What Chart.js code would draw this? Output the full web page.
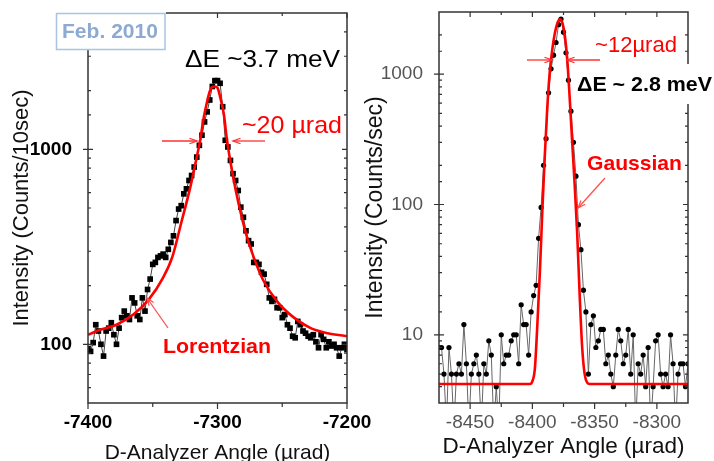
<!DOCTYPE html>
<html><head><meta charset="utf-8">
<script src="https://cdn.jsdelivr.net/npm/chart.js@4.4.1/dist/chart.umd.min.js"></script>
<style>
html,body{margin:0;padding:0;background:#fff;overflow:hidden}
#wrap{position:relative;width:714px;height:461px;overflow:hidden}
.c{position:absolute;top:0;height:461px}
</style></head><body>
<div id="wrap">
<div class="c" style="left:0;width:380px"><canvas id="left"></canvas></div>
<div class="c" style="left:357px;width:357px"><canvas id="right"></canvas></div>
</div>
<script>
// ---------- Left panel (Lorentzian) ----------
const leftAngles = [-7400,-7398,-7396,-7394,-7392,-7390,-7388,-7386,-7384,-7382,-7380,-7378,-7376,-7374,-7372,-7370,-7368,-7366,-7364,-7362,-7360,-7358,-7356,-7354,-7352,-7350,-7348,-7346,-7344,-7342,-7340,-7338,-7336,-7334,-7332,-7330,-7328,-7326,-7324,-7322,-7320,-7318,-7316,-7314,-7312,-7310,-7308,-7306,-7304,-7302,-7300,-7298,-7296,-7294,-7292,-7290,-7288,-7286,-7284,-7282,-7280,-7278,-7276,-7274,-7272,-7270,-7268,-7266,-7264,-7262,-7260,-7258,-7256,-7254,-7252,-7250,-7248,-7246,-7244,-7242,-7240,-7238,-7236,-7234,-7232,-7230,-7228,-7226,-7224,-7222,-7220,-7218,-7216,-7214,-7212,-7210,-7208,-7206,-7204,-7202,-7200];
const leftCounts = [95,92,102,126,117,100,87,117,121,129,112,100,121,137,148,140,134,173,163,140,134,173,148,191,216,257,263,279,284,290,279,307,333,360,431,494,514,591,627,692,734,811,912,1048,1181,1382,1556,1790,2100,2250,2250,2180,1653,1112,1028,877,750,692,615,505,448,382,340,327,263,263,257,234,229,203,173,166,170,154,154,137,142,126,121,110,108,131,126,117,114,110,108,112,103,96,112,106,96,103,98,100,96,87,96,100,94];
const lorentzAngles = [-7400,-7390,-7378,-7365,-7353,-7342,-7335,-7328,-7321,-7316,-7313,-7311,-7308,-7306,-7304,-7302,-7300,-7298,-7295,-7293,-7290,-7286,-7282,-7277,-7272,-7265,-7254,-7241,-7228,-7215,-7200];
const lorentzFit = [112,119,126,142,170,220,279,420,640,912,1150,1410,1760,1980,2090,2100,2070,1860,1500,1157,860,620,470,350,279,215,166,137,121,114,110];
const leftXTicks = [-7400,-7300,-7200];
const leftYTicks = [100,1000];

// ---------- Right panel (Gaussian) ----------
const rightAngles = [-8475,-8473,-8471,-8469,-8467,-8465,-8463,-8461,-8459,-8457,-8455,-8453,-8451,-8449,-8447,-8445,-8443,-8441,-8439,-8437,-8435,-8433,-8431,-8429,-8427,-8425,-8423,-8421,-8419,-8417,-8415,-8413,-8411,-8409,-8407,-8405,-8403,-8401,-8399,-8397,-8395,-8393,-8391,-8389,-8387,-8385,-8383,-8381,-8379,-8377,-8375,-8373,-8371,-8369,-8367,-8365,-8363,-8361,-8359,-8357,-8355,-8353,-8351,-8349,-8347,-8345,-8343,-8341,-8339,-8337,-8335,-8333,-8331,-8329,-8327,-8325,-8323,-8321,-8319,-8317,-8315,-8313,-8311,-8309,-8307,-8305,-8303,-8301,-8299,-8297,-8295,-8293,-8291,-8289,-8287,-8285,-8283,-8281,-8279,-8277,-8275];
const rightCounts = [8,8,5,2,8,5,2,5,6,5,12,6,2,5,6,7,5,2,6,5,9,7,2,4,2,10,6,7,7,9,10,10,6,17,12,12,7,15,20,24,55,95,200,320,720,1100,1400,1750,2400,2650,2100,1460,900,520,300,165,70,45,22,15,5,12,14,8,9,11,11,6,7,5,4,7,11,9,6,7,11,5,10,2,6,5,7,4,8,2,4,9,10,5,4,5,4,10,6,2,5,6,6,4,6];
const gaussAngles = [-8475,-8402,-8400,-8398,-8396,-8394,-8392,-8390,-8388,-8386,-8384,-8382,-8380,-8378,-8376,-8374,-8372,-8370,-8368,-8366,-8364,-8362,-8360,-8358,-8356,-8354,-8275];
const gaussFit = [4.2,4.2,4.4,5.5,12,30,90,240,560,1050,1550,2050,2450,2640,2500,2000,1300,650,300,140,60,20,8,5,4.3,4.2,4.2];
const rightXTicks = [-8450,-8400,-8350,-8300];
const rightYTicks = [10,100,1000];

const FONT = "'Liberation Sans', Arial, sans-serif";
const isPow10 = v => Math.abs(Math.log10(v) - Math.round(Math.log10(v))) < 1e-6;

function arrow(ctx, x1, y1, x2, y2, color) {
  ctx.save();
  ctx.strokeStyle = color; ctx.lineWidth = 1.3;
  ctx.beginPath(); ctx.moveTo(x1, y1); ctx.lineTo(x2, y2); ctx.stroke();
  const ang = Math.atan2(y2 - y1, x2 - x1), h = 8, w = 0.35;
  ctx.beginPath();
  ctx.moveTo(x2 - h * Math.cos(ang - w), y2 - h * Math.sin(ang - w));
  ctx.lineTo(x2, y2);
  ctx.lineTo(x2 - h * Math.cos(ang + w), y2 - h * Math.sin(ang + w));
  ctx.stroke();
  ctx.restore();
}
// draws text starting at x, vertically centred on y, stretched to the width seen in the reference
function text(ctx, s, x, y, font, color, width) {
  ctx.save(); ctx.font = font; ctx.fillStyle = color;
  ctx.textAlign = 'left'; ctx.textBaseline = 'middle';
  const m = ctx.measureText(s).width;
  const sx = width ? width / m : 1;
  ctx.translate(x, y); ctx.scale(sx, 1);
  ctx.fillText(s, 0, 0); ctx.restore();
}

const framePlugin = {
  id: 'frame',
  afterDraw(chart, args, opts) {
    const {ctx, chartArea: a, scales: {x, y}} = chart;
    ctx.save();
    ctx.strokeStyle = opts.color; ctx.lineWidth = 1.5;
    ctx.strokeRect(a.left, a.top, a.right - a.left, a.bottom - a.top);
    ctx.lineWidth = 1.2;
    x.ticks.forEach(t => {
      const px = x.getPixelForValue(t.value);
      const major = opts.xMajor.includes(t.value);
      ctx.beginPath();
      ctx.moveTo(px, a.bottom); ctx.lineTo(px, a.bottom + (major ? 6 : 4));
      ctx.moveTo(px, a.top); ctx.lineTo(px, a.top + (major ? 5 : 3));
      ctx.stroke();
    });
    y.ticks.forEach(t => {
      if (t.value <= y.min || t.value >= y.max) return;
      const py = y.getPixelForValue(t.value);
      const major = isPow10(t.value);
      ctx.beginPath();
      ctx.moveTo(a.left - (major ? 5 : 0), py); ctx.lineTo(a.left + (major ? 5 : 3), py);
      ctx.moveTo(a.right - (major ? 5 : 3), py); ctx.lineTo(a.right, py);
      ctx.stroke();
    });
    ctx.restore();
    if (opts.annotate) opts.annotate(ctx);
  }
};

function zeroPad(s) { s.paddingLeft = 0; s.paddingRight = 0; s.paddingTop = 0; s.paddingBottom = 0; }

function makeChart(id, cfg) {
  return new Chart(document.getElementById(id), {
    type: 'line',
    data: {datasets: [
      {label: cfg.fitLabel, data: cfg.fitX.map((v, i) => ({x: v, y: cfg.fitY[i]})),
       borderColor: '#ff0000', borderWidth: 2.6, pointRadius: 0, cubicInterpolationMode: 'monotone', order: 0},
      {label: 'data', data: cfg.dataX.map((v, i) => ({x: v, y: cfg.dataY[i]})),
       borderColor: cfg.lineColor, borderWidth: 1, pointStyle: cfg.pointStyle, pointRadius: cfg.pointRadius,
       pointBackgroundColor: '#000', pointBorderColor: '#000', pointBorderWidth: 0, tension: 0, order: 1}
    ]},
    options: {
      responsive: true, maintainAspectRatio: false, animation: false,
      layout: {padding: {top: cfg.top, right: cfg.right, left: 0, bottom: 0}},
      plugins: {legend: {display: false}, tooltip: {enabled: false},
        frame: {color: '#333', xMajor: cfg.xTicks, annotate: cfg.annotate}},
      scales: {
        x: {type: 'linear', min: cfg.xMin, max: cfg.xMax,
            grid: {display: false}, border: {display: false},
            afterBuildTicks: s => { s.ticks = cfg.xAll.map(v => ({value: v})); },
            ticks: {autoSkip: false, maxRotation: 0, padding: 0, color: cfg.tickColor,
                    font: {family: FONT, size: 19, weight: cfg.tickWeight},
                    callback: v => cfg.xTicks.includes(v) ? String(v) : ''},
            title: {display: true, text: 'D-Analyzer Angle (\u00b5rad)', color: '#111',
                    font: {family: FONT, size: cfg.xTitleSize, lineHeight: 1}, padding: {top: 0, bottom: cfg.xTitlePad}},
            afterFit: s => { s.height = 58; zeroPad(s); }},
        y: {type: 'logarithmic', min: cfg.yMin, max: cfg.yMax,
            grid: {display: false}, border: {display: false},
            ticks: {autoSkip: false, padding: 8, color: cfg.tickColor,
                    font: {family: FONT, size: 19, weight: cfg.tickWeight},
                    callback: v => cfg.yTicks.includes(v) ? String(v) : ''},
            title: {display: true, text: cfg.yTitle, color: '#111',
                    font: {family: FONT, size: cfg.yTitleSize, lineHeight: 1}, padding: {top: cfg.yTitlePad, bottom: 0}},
            afterFit: s => { s.width = cfg.left; zeroPad(s); }}
      }
    },
    plugins: [framePlugin]
  });
}

makeChart('left', {
  fitLabel: 'Lorentzian', fitX: lorentzAngles, fitY: lorentzFit,
  dataX: leftAngles, dataY: leftCounts, lineColor: '#444', pointStyle: 'rect', pointRadius: 4,
  top: 13, right: 33, left: 88, xMin: -7400, xMax: -7200, yMin: 50, yMax: 5000,
  xTicks: leftXTicks, xAll: [-7400, -7350, -7300, -7250, -7200], yTicks: leftYTicks,
  tickColor: '#000', tickWeight: 'bold', xTitlePad: -3, xTitleSize: 21,
  yTitle: 'Intensity (Counts/10sec)', yTitleSize: 22, yTitlePad: 11,
  annotate(ctx) {
    ctx.save();
    ctx.fillStyle = '#fff'; ctx.fillRect(56, 12, 110, 38);
    ctx.strokeStyle = '#a9c3e0'; ctx.lineWidth = 1.5; ctx.strokeRect(56.5, 13.5, 108.5, 36);
    ctx.restore();
    text(ctx, 'Feb. 2010', 62, 32, 'bold 21px ' + FONT, '#8eaad0', 96);
    text(ctx, '\u0394E ~3.7 meV', 185, 61, '23px ' + FONT, '#000', 155);
    text(ctx, '~20 \u00b5rad', 242, 126, '24px ' + FONT, '#ff0000', 100);
    arrow(ctx, 162, 141, 197, 141, '#ff3030');
    arrow(ctx, 265, 141, 233, 141, '#ff3030');
    text(ctx, 'Lorentzian', 163, 347, 'bold 21px ' + FONT, '#ff0000', 108);
    arrow(ctx, 168, 328, 147, 298, '#ff5050');
  }
});

makeChart('right', {
  fitLabel: 'Gaussian', fitX: gaussAngles, fitY: gaussFit,
  dataX: rightAngles, dataY: rightCounts, lineColor: '#666', pointStyle: 'circle', pointRadius: 2.6,
  top: 12, right: 26, left: 82, xMin: -8475, xMax: -8275, yMin: 3, yMax: 3000,
  xTicks: rightXTicks, xAll: [-8450, -8425, -8400, -8375, -8350, -8325, -8300], yTicks: rightYTicks,
  tickColor: '#555', tickWeight: 'normal', xTitlePad: 3, xTitleSize: 22.5,
  yTitle: 'Intensity (Counts/sec)', yTitleSize: 23, yTitlePad: 7,
  annotate(ctx) {
    text(ctx, '~12\u00b5rad', 238, 46, '22px ' + FONT, '#ff0000', 82);
    arrow(ctx, 170, 60, 195, 60, '#ff3030');
    arrow(ctx, 243, 60, 210, 60, '#ff3030');
    ctx.save(); ctx.fillStyle = '#fff'; ctx.fillRect(216, 64, 141, 40); ctx.restore();
    text(ctx, '\u0394E ~ 2.8 meV', 220, 85, 'bold 21px ' + FONT, '#000', 135);
    text(ctx, 'Gaussian', 230, 164, 'bold 21px ' + FONT, '#ff0000', 95);
    arrow(ctx, 248, 178, 221, 208, '#ff5050');
  }
});
</script>
</body></html>
